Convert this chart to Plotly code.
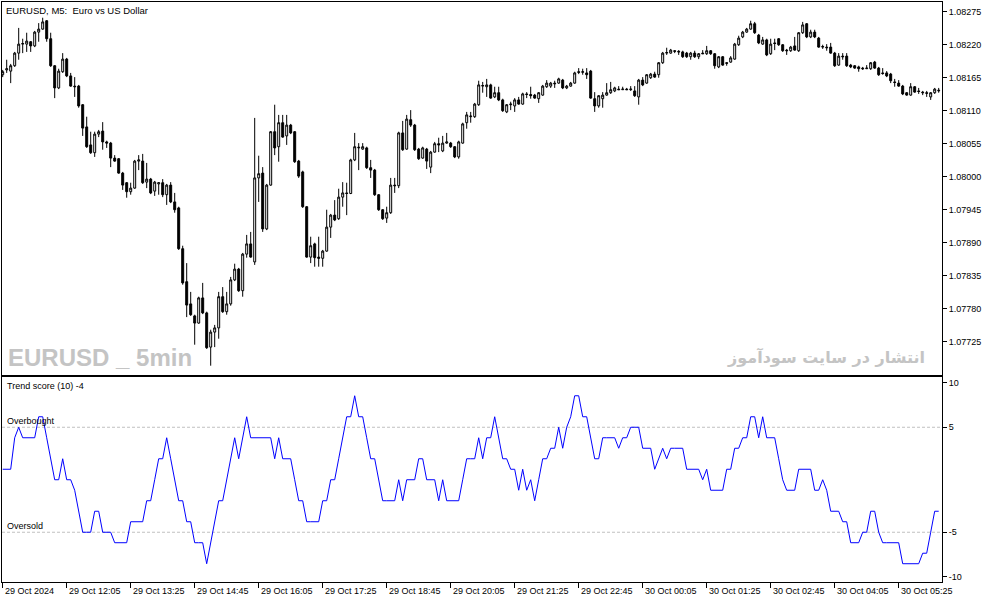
import plotly.graph_objects as go

# ---------- 文本 ----------
CHART_TITLE = "EURUSD, M5:\u00a0 Euro vs US Dollar"
IND_TITLE = "Trend score (10) -4"
WATERMARK_LEFT = "EURUSD _ 5min"
WATERMARK_RIGHT = "انتشار در سایت سودآموز"

# ---------- K线数据 (EURUSD M5, 29 Oct 2024 10:45 起) ----------
open_ = [
    1.08170, 1.08178, 1.08176, 1.08185, 1.08206, 1.08221, 1.08221, 1.08225, 1.08218, 1.08241,
    1.08246, 1.08260, 1.08230, 1.08185, 1.08148, 1.08175, 1.08196, 1.08168, 1.08151, 1.08151,
    1.08120, 1.08083, 1.08053, 1.08040, 1.08071, 1.08076, 1.08058, 1.08056, 1.08031, 1.08030,
    1.08006, 1.07990, 1.07975, 1.07981, 1.08026, 1.08026, 1.07991, 1.07996, 1.07976, 1.07988,
    1.07990, 1.07970, 1.07986, 1.07958, 1.07948, 1.07880, 1.07825, 1.07788, 1.07768, 1.07756,
    1.07798, 1.07773, 1.07716, 1.07741, 1.07748, 1.07800, 1.07775, 1.07788, 1.07828, 1.07846,
    1.07810, 1.07871, 1.07888, 1.07858, 1.07998, 1.08006, 1.07913, 1.07986, 1.08075, 1.08050,
    1.08090, 1.08068, 1.08086, 1.08075, 1.08026, 1.08008, 1.07950, 1.07866, 1.07888, 1.07866,
    1.07864, 1.07876, 1.07916, 1.07936, 1.07930, 1.07966, 1.07973, 1.07972, 1.08028, 1.08048,
    1.08046, 1.08048, 1.08015, 1.08011, 1.07970, 1.07945, 1.07931, 1.07940, 1.07986, 1.07985,
    1.08073, 1.08046, 1.08095, 1.08086, 1.08046, 1.08031, 1.08046, 1.08016, 1.08041, 1.08055,
    1.08043, 1.08056, 1.08056, 1.08050, 1.08033, 1.08056, 1.08090, 1.08100, 1.08100, 1.08120,
    1.08151, 1.08150, 1.08153, 1.08133, 1.08140, 1.08128, 1.08108, 1.08120, 1.08118, 1.08128,
    1.08121, 1.08138, 1.08137, 1.08136, 1.08130, 1.08136, 1.08150, 1.08151, 1.08156, 1.08156,
    1.08161, 1.08148, 1.08151, 1.08156, 1.08175, 1.08174, 1.08173, 1.08176, 1.08130, 1.08118,
    1.08130, 1.08136, 1.08140, 1.08143, 1.08146, 1.08145, 1.08146, 1.08145, 1.08143, 1.08133,
    1.08161, 1.08156, 1.08165, 1.08171, 1.08170, 1.08190, 1.08206, 1.08206, 1.08210, 1.08209,
    1.08208, 1.08206, 1.08200, 1.08206, 1.08200, 1.08206, 1.08205, 1.08210, 1.08205, 1.08183,
    1.08200, 1.08190, 1.08191, 1.08196, 1.08220, 1.08233, 1.08241, 1.08246, 1.08255, 1.08236,
    1.08221, 1.08228, 1.08205, 1.08223, 1.08230, 1.08220, 1.08211, 1.08210, 1.08218, 1.08210,
    1.08240, 1.08255, 1.08233, 1.08241, 1.08231, 1.08216, 1.08216, 1.08216, 1.08206, 1.08186,
    1.08201, 1.08201, 1.08186, 1.08185, 1.08183, 1.08181, 1.08180, 1.08180, 1.08191, 1.08181,
    1.08173, 1.08173, 1.08171, 1.08158, 1.08156, 1.08151, 1.08140, 1.08136, 1.08150, 1.08143,
    1.08141, 1.08140, 1.08133, 1.08140, 1.08143,
]
high = [
    1.08178, 1.08195, 1.08188, 1.08208, 1.08248, 1.08230, 1.08240, 1.08226, 1.08243, 1.08256,
    1.08265, 1.08261, 1.08240, 1.08186, 1.08180, 1.08206, 1.08198, 1.08173, 1.08166, 1.08153,
    1.08121, 1.08100, 1.08075, 1.08075, 1.08078, 1.08091, 1.08060, 1.08058, 1.08036, 1.08031,
    1.08008, 1.07991, 1.07990, 1.08028, 1.08036, 1.08038, 1.08023, 1.07998, 1.07993, 1.07991,
    1.07996, 1.07988, 1.07991, 1.07973, 1.07950, 1.07885, 1.07856, 1.07808, 1.07770, 1.07800,
    1.07823, 1.07775, 1.07745, 1.07753, 1.07808, 1.07816, 1.07808, 1.07833, 1.07855, 1.07848,
    1.07873, 1.07903, 1.07908, 1.08098, 1.08035, 1.08016, 1.07988, 1.08076, 1.08120, 1.08103,
    1.08103, 1.08103, 1.08088, 1.08076, 1.08028, 1.08010, 1.07951, 1.07900, 1.07890, 1.07900,
    1.07878, 1.07945, 1.07938, 1.07961, 1.07980, 1.07991, 1.07990, 1.08030, 1.08073, 1.08056,
    1.08056, 1.08050, 1.08028, 1.08013, 1.07971, 1.07946, 1.07950, 1.07998, 1.07998, 1.08075,
    1.08093, 1.08103, 1.08111, 1.08088, 1.08048, 1.08050, 1.08048, 1.08043, 1.08058, 1.08065,
    1.08068, 1.08073, 1.08058, 1.08051, 1.08060, 1.08090, 1.08108, 1.08108, 1.08123, 1.08160,
    1.08158, 1.08163, 1.08155, 1.08150, 1.08150, 1.08130, 1.08121, 1.08125, 1.08131, 1.08133,
    1.08140, 1.08141, 1.08150, 1.08138, 1.08141, 1.08153, 1.08161, 1.08158, 1.08160, 1.08165,
    1.08163, 1.08153, 1.08158, 1.08175, 1.08181, 1.08180, 1.08181, 1.08178, 1.08141, 1.08136,
    1.08141, 1.08156, 1.08158, 1.08150, 1.08151, 1.08150, 1.08148, 1.08151, 1.08151, 1.08163,
    1.08166, 1.08171, 1.08173, 1.08175, 1.08191, 1.08208, 1.08215, 1.08213, 1.08211, 1.08211,
    1.08210, 1.08208, 1.08208, 1.08210, 1.08206, 1.08211, 1.08218, 1.08211, 1.08206, 1.08201,
    1.08201, 1.08191, 1.08201, 1.08223, 1.08235, 1.08243, 1.08248, 1.08260, 1.08258, 1.08238,
    1.08233, 1.08230, 1.08230, 1.08230, 1.08231, 1.08221, 1.08213, 1.08218, 1.08233, 1.08241,
    1.08258, 1.08256, 1.08245, 1.08245, 1.08233, 1.08220, 1.08221, 1.08223, 1.08208, 1.08206,
    1.08206, 1.08206, 1.08188, 1.08186, 1.08185, 1.08183, 1.08186, 1.08191, 1.08193, 1.08183,
    1.08181, 1.08176, 1.08173, 1.08163, 1.08161, 1.08153, 1.08141, 1.08156, 1.08151, 1.08148,
    1.08143, 1.08143, 1.08141, 1.08148, 1.08148,
]
low = [
    1.08166, 1.08173, 1.08156, 1.08183, 1.08195, 1.08206, 1.08208, 1.08208, 1.08216, 1.08225,
    1.08245, 1.08225, 1.08183, 1.08131, 1.08146, 1.08173, 1.08166, 1.08150, 1.08133, 1.08115,
    1.08068, 1.08048, 1.08038, 1.08033, 1.08066, 1.08045, 1.08048, 1.08016, 1.08025, 1.08005,
    1.07978, 1.07965, 1.07970, 1.07980, 1.08011, 1.07988, 1.07981, 1.07971, 1.07968, 1.07970,
    1.07966, 1.07953, 1.07956, 1.07940, 1.07878, 1.07820, 1.07766, 1.07768, 1.07720, 1.07755,
    1.07771, 1.07713, 1.07685, 1.07716, 1.07730, 1.07773, 1.07770, 1.07785, 1.07826, 1.07808,
    1.07800, 1.07865, 1.07865, 1.07853, 1.07958, 1.07908, 1.07911, 1.07985, 1.08036, 1.08025,
    1.08065, 1.08053, 1.08071, 1.08023, 1.07998, 1.07948, 1.07865, 1.07856, 1.07850, 1.07850,
    1.07850, 1.07875, 1.07898, 1.07926, 1.07928, 1.07950, 1.07936, 1.07971, 1.08026, 1.08011,
    1.08045, 1.08013, 1.07998, 1.07968, 1.07943, 1.07928, 1.07923, 1.07938, 1.07973, 1.07981,
    1.08043, 1.08045, 1.08083, 1.08043, 1.08028, 1.08030, 1.08013, 1.08006, 1.08040, 1.08041,
    1.08041, 1.08055, 1.08048, 1.08031, 1.08030, 1.08055, 1.08080, 1.08090, 1.08098, 1.08118,
    1.08140, 1.08133, 1.08130, 1.08131, 1.08126, 1.08108, 1.08106, 1.08111, 1.08108, 1.08120,
    1.08120, 1.08131, 1.08130, 1.08130, 1.08123, 1.08135, 1.08148, 1.08148, 1.08148, 1.08155,
    1.08146, 1.08146, 1.08150, 1.08155, 1.08171, 1.08170, 1.08163, 1.08130, 1.08108, 1.08115,
    1.08115, 1.08135, 1.08138, 1.08141, 1.08145, 1.08145, 1.08145, 1.08143, 1.08133, 1.08120,
    1.08151, 1.08155, 1.08163, 1.08165, 1.08165, 1.08188, 1.08203, 1.08205, 1.08206, 1.08203,
    1.08198, 1.08198, 1.08195, 1.08198, 1.08196, 1.08205, 1.08203, 1.08203, 1.08180, 1.08181,
    1.08185, 1.08185, 1.08190, 1.08195, 1.08218, 1.08231, 1.08240, 1.08245, 1.08238, 1.08221,
    1.08220, 1.08201, 1.08203, 1.08211, 1.08218, 1.08208, 1.08203, 1.08208, 1.08210, 1.08208,
    1.08238, 1.08231, 1.08231, 1.08231, 1.08215, 1.08213, 1.08210, 1.08205, 1.08183, 1.08185,
    1.08195, 1.08183, 1.08181, 1.08180, 1.08175, 1.08178, 1.08180, 1.08178, 1.08180, 1.08168,
    1.08170, 1.08166, 1.08156, 1.08150, 1.08150, 1.08136, 1.08135, 1.08135, 1.08140, 1.08138,
    1.08136, 1.08133, 1.08128, 1.08138, 1.08140,
]
close = [
    1.08175, 1.08180, 1.08185, 1.08206, 1.08221, 1.08222, 1.08226, 1.08218, 1.08241, 1.08246,
    1.08258, 1.08230, 1.08185, 1.08148, 1.08176, 1.08196, 1.08168, 1.08151, 1.08150, 1.08118,
    1.08081, 1.08050, 1.08040, 1.08071, 1.08075, 1.08058, 1.08056, 1.08031, 1.08026, 1.08006,
    1.07986, 1.07975, 1.07981, 1.08026, 1.08028, 1.07990, 1.07996, 1.07973, 1.07991, 1.07990,
    1.07970, 1.07986, 1.07958, 1.07945, 1.07880, 1.07823, 1.07786, 1.07770, 1.07756, 1.07798,
    1.07773, 1.07715, 1.07741, 1.07748, 1.07800, 1.07775, 1.07788, 1.07828, 1.07846, 1.07810,
    1.07871, 1.07888, 1.07866, 1.07998, 1.08005, 1.07913, 1.07986, 1.08075, 1.08048, 1.08090,
    1.08066, 1.08086, 1.08073, 1.08025, 1.08001, 1.07950, 1.07866, 1.07885, 1.07865, 1.07864,
    1.07876, 1.07916, 1.07936, 1.07928, 1.07966, 1.07973, 1.07972, 1.08028, 1.08050, 1.08049,
    1.08050, 1.08015, 1.08011, 1.07970, 1.07945, 1.07930, 1.07940, 1.07986, 1.07985, 1.08073,
    1.08045, 1.08096, 1.08086, 1.08045, 1.08030, 1.08048, 1.08026, 1.08041, 1.08055, 1.08053,
    1.08056, 1.08058, 1.08050, 1.08033, 1.08058, 1.08088, 1.08103, 1.08101, 1.08121, 1.08153,
    1.08152, 1.08153, 1.08131, 1.08140, 1.08128, 1.08110, 1.08120, 1.08121, 1.08128, 1.08121,
    1.08138, 1.08137, 1.08135, 1.08131, 1.08140, 1.08151, 1.08156, 1.08156, 1.08155, 1.08163,
    1.08148, 1.08151, 1.08156, 1.08173, 1.08174, 1.08175, 1.08170, 1.08131, 1.08118, 1.08135,
    1.08136, 1.08140, 1.08145, 1.08148, 1.08145, 1.08146, 1.08145, 1.08146, 1.08135, 1.08161,
    1.08153, 1.08170, 1.08171, 1.08166, 1.08190, 1.08206, 1.08207, 1.08211, 1.08209, 1.08208,
    1.08200, 1.08200, 1.08206, 1.08200, 1.08205, 1.08205, 1.08210, 1.08205, 1.08185, 1.08200,
    1.08186, 1.08189, 1.08198, 1.08221, 1.08231, 1.08241, 1.08246, 1.08255, 1.08240, 1.08223,
    1.08228, 1.08203, 1.08221, 1.08222, 1.08220, 1.08210, 1.08210, 1.08216, 1.08211, 1.08240,
    1.08253, 1.08233, 1.08241, 1.08233, 1.08216, 1.08217, 1.08215, 1.08206, 1.08185, 1.08201,
    1.08200, 1.08185, 1.08183, 1.08181, 1.08180, 1.08180, 1.08181, 1.08190, 1.08181, 1.08170,
    1.08172, 1.08168, 1.08160, 1.08157, 1.08151, 1.08138, 1.08136, 1.08150, 1.08141, 1.08142,
    1.08140, 1.08139, 1.08140, 1.08146, 1.08144,
]

# ---------- 指标 Trend score (10) ----------
trend_score = [
    1, 1, 1, 4, 5, 4, 4, 4, 4, 6,
    6, 4, 2, 0, 0, 2, 0, 0, -1, -3,
    -5, -5, -5, -3, -3, -5, -5, -5, -6, -6,
    -6, -6, -4, -4, -4, -4, -2, -2, 0, 2,
    2, 4, 2, 0, -2, -2, -4, -4, -6, -6,
    -6, -8, -6, -4, -2, -2, 0, 2, 4, 2,
    4, 6, 4, 4, 4, 4, 4, 4, 2, 4,
    2, 2, 2, 0, -2, -2, -4, -4, -4, -4,
    -2, -2, 0, 0, 2, 4, 6, 6, 8, 6,
    6, 4, 2, 2, 0, -2, -2, -2, -2, 0,
    -2, 0, 0, 0, 2, 2, 0, 0, 0, -2,
    0, -2, -2, -2, -2, 0, 2, 2, 2, 4,
    2, 4, 4, 6, 4, 2, 2, 1, 1, -1,
    1, -1, 0, -2, 0, 2, 2, 3, 3, 5,
    3, 5, 6, 8, 8, 6, 6, 4, 2, 2,
    4, 4, 4, 4, 3, 4, 4, 5, 5, 5,
    3, 3, 3, 1, 2, 3, 2, 3, 3, 3,
    3, 1, 1, 1, 1, 0, 1, -1, -1, -1,
    -1, 1, 1, 3, 3, 4, 4, 6, 6, 4,
    6, 4, 4, 4, 2, 0, -1, -1, -1, 1,
    1, 1, 1, -1, -1, 0, -1, -3, -3, -3,
    -4, -4, -6, -6, -6, -5, -5, -3, -3, -5,
    -6, -6, -6, -6, -6, -8, -8, -8, -8, -8,
    -7, -7, -5, -3, -3,
]

# ---------- 坐标轴刻度 ----------
price_ticks = [1.07725, 1.07780, 1.07835, 1.07890, 1.07945, 1.08000,
               1.08055, 1.08110, 1.08165, 1.08220, 1.08275]
time_labels = [
    "29 Oct 2024", "29 Oct 12:05", "29 Oct 13:25", "29 Oct 14:45", "29 Oct 16:05",
    "29 Oct 17:25", "29 Oct 18:45", "29 Oct 20:05", "29 Oct 21:25", "29 Oct 22:45",
    "30 Oct 00:05", "30 Oct 01:25", "30 Oct 02:45", "30 Oct 04:05", "30 Oct 05:25",
]
LABEL_EVERY = 16          # 每 16 根 K 线一个时间标签 (80 分钟)
OVERBOUGHT = 5
OVERSOLD = -5
IND_LIMIT = 9.74          # 指标窗口上下限
PRICE_RANGE = [1.076695, 1.082912]
X_RANGE = [-0.175, 234.825]

FONT = "Liberation Sans, Arial, sans-serif"

bars = list(range(len(close)))
label_bars = [i * LABEL_EVERY for i in range(len(time_labels))]

fig = go.Figure()

# ----- 主图：K线 -----
fig.add_trace(go.Candlestick(
    x=bars, open=open_, high=high, low=low, close=close,
    increasing=dict(line=dict(color="black", width=1), fillcolor="white"),
    decreasing=dict(line=dict(color="black", width=1), fillcolor="black"),
    whiskerwidth=0,
    xaxis="x", yaxis="y",
    showlegend=False,
))

# ----- 副图：Trend score -----
fig.add_trace(go.Scatter(
    x=bars, y=trend_score,
    mode="lines",
    line=dict(color="#0000FF", width=1),
    xaxis="x2", yaxis="y2",
    showlegend=False,
))

# 超买/超卖虚线
for lvl in (OVERBOUGHT, OVERSOLD):
    fig.add_shape(type="line", xref="x2 domain", yref="y2",
                  x0=0, x1=1, y0=lvl, y1=lvl,
                  line=dict(color="#C0C0C0", width=1, dash="3px,2px"),
                  layer="below")

axis_common = dict(showgrid=False, zeroline=False, showline=True, mirror=True,
                   linecolor="black", linewidth=1)

fig.update_layout(
    width=994, height=603,
    margin=dict(l=2, r=52, t=2, b=21),
    paper_bgcolor="white", plot_bgcolor="white",
    font=dict(family=FONT, size=9, color="black"),
    showlegend=False,
    xaxis=dict(domain=[0, 1], anchor="y", range=X_RANGE, showticklabels=False,
               ticks="", rangeslider=dict(visible=False), **axis_common),
    yaxis=dict(domain=[0.3569, 1], anchor="x", range=PRICE_RANGE, side="right",
               tickvals=price_ticks, tickformat=".5f", ticks="outside", ticklen=4,
               tickcolor="black", tickfont=dict(family=FONT, size=9), **axis_common),
    xaxis2=dict(domain=[0, 1], anchor="y2", range=X_RANGE, tickvals=label_bars,
                showticklabels=False, ticks="outside", ticklen=5, tickcolor="black",
                **axis_common),
    yaxis2=dict(domain=[0, 0.3526], anchor="x2", range=[-IND_LIMIT, IND_LIMIT],
                side="right",
                tickvals=[IND_LIMIT - 0.5, OVERBOUGHT, OVERSOLD, -IND_LIMIT + 0.5],
                ticktext=["10", "5", "-5", "-10"],
                ticks="outside", ticklen=4, tickcolor="black",
                tickfont=dict(family=FONT, size=9), **axis_common),
)

# 时间标签（左对齐于刻度）
for b, lab in zip(label_bars, time_labels):
    fig.add_annotation(x=b, y=0, xref="x2", yref="y2 domain", text=lab,
                       showarrow=False, xanchor="left", yanchor="top",
                       xshift=0, yshift=-2, font=dict(family=FONT, size=9))

# 标题与文字
fig.add_annotation(x=0, y=1, xref="paper", yref="paper", text=CHART_TITLE,
                   showarrow=False, xanchor="left", yanchor="top", xshift=2, yshift=-1,
                   font=dict(family=FONT, size=9.5))
fig.add_annotation(x=0, y=1, xref="x2 domain", yref="y2 domain", text=IND_TITLE,
                   showarrow=False, xanchor="left", yanchor="top", xshift=3, yshift=-2,
                   font=dict(family=FONT, size=9))
fig.add_annotation(x=0, y=OVERBOUGHT, xref="x2 domain", yref="y2", text="Overbought",
                   showarrow=False, xanchor="left", yanchor="bottom", xshift=3, yshift=-1,
                   font=dict(family=FONT, size=9))
fig.add_annotation(x=0, y=OVERSOLD, xref="x2 domain", yref="y2", text="Oversold",
                   showarrow=False, xanchor="left", yanchor="bottom", xshift=3, yshift=-1,
                   font=dict(family=FONT, size=9))

# 水印
fig.add_annotation(x=0, y=0, xref="x domain", yref="y domain", text=WATERMARK_LEFT,
                   showarrow=False, xanchor="left", yanchor="bottom", xshift=4, yshift=2,
                   font=dict(family=FONT, size=24, color="#C4C4C4", weight="bold"))
fig.add_annotation(x=1, y=0, xref="x domain", yref="y domain", text=WATERMARK_RIGHT,
                   showarrow=False, xanchor="right", yanchor="bottom", xshift=-15, yshift=6,
                   font=dict(family="DejaVu Sans, sans-serif", size=16, color="#C4C4C4",
                             weight="bold"))

# 去掉页面默认边距，使图表贴齐窗口左上角；隐藏工具栏
fig.write_html("out.html", config={"displayModeBar": False},
               post_script="document.body.style.margin='0';")
